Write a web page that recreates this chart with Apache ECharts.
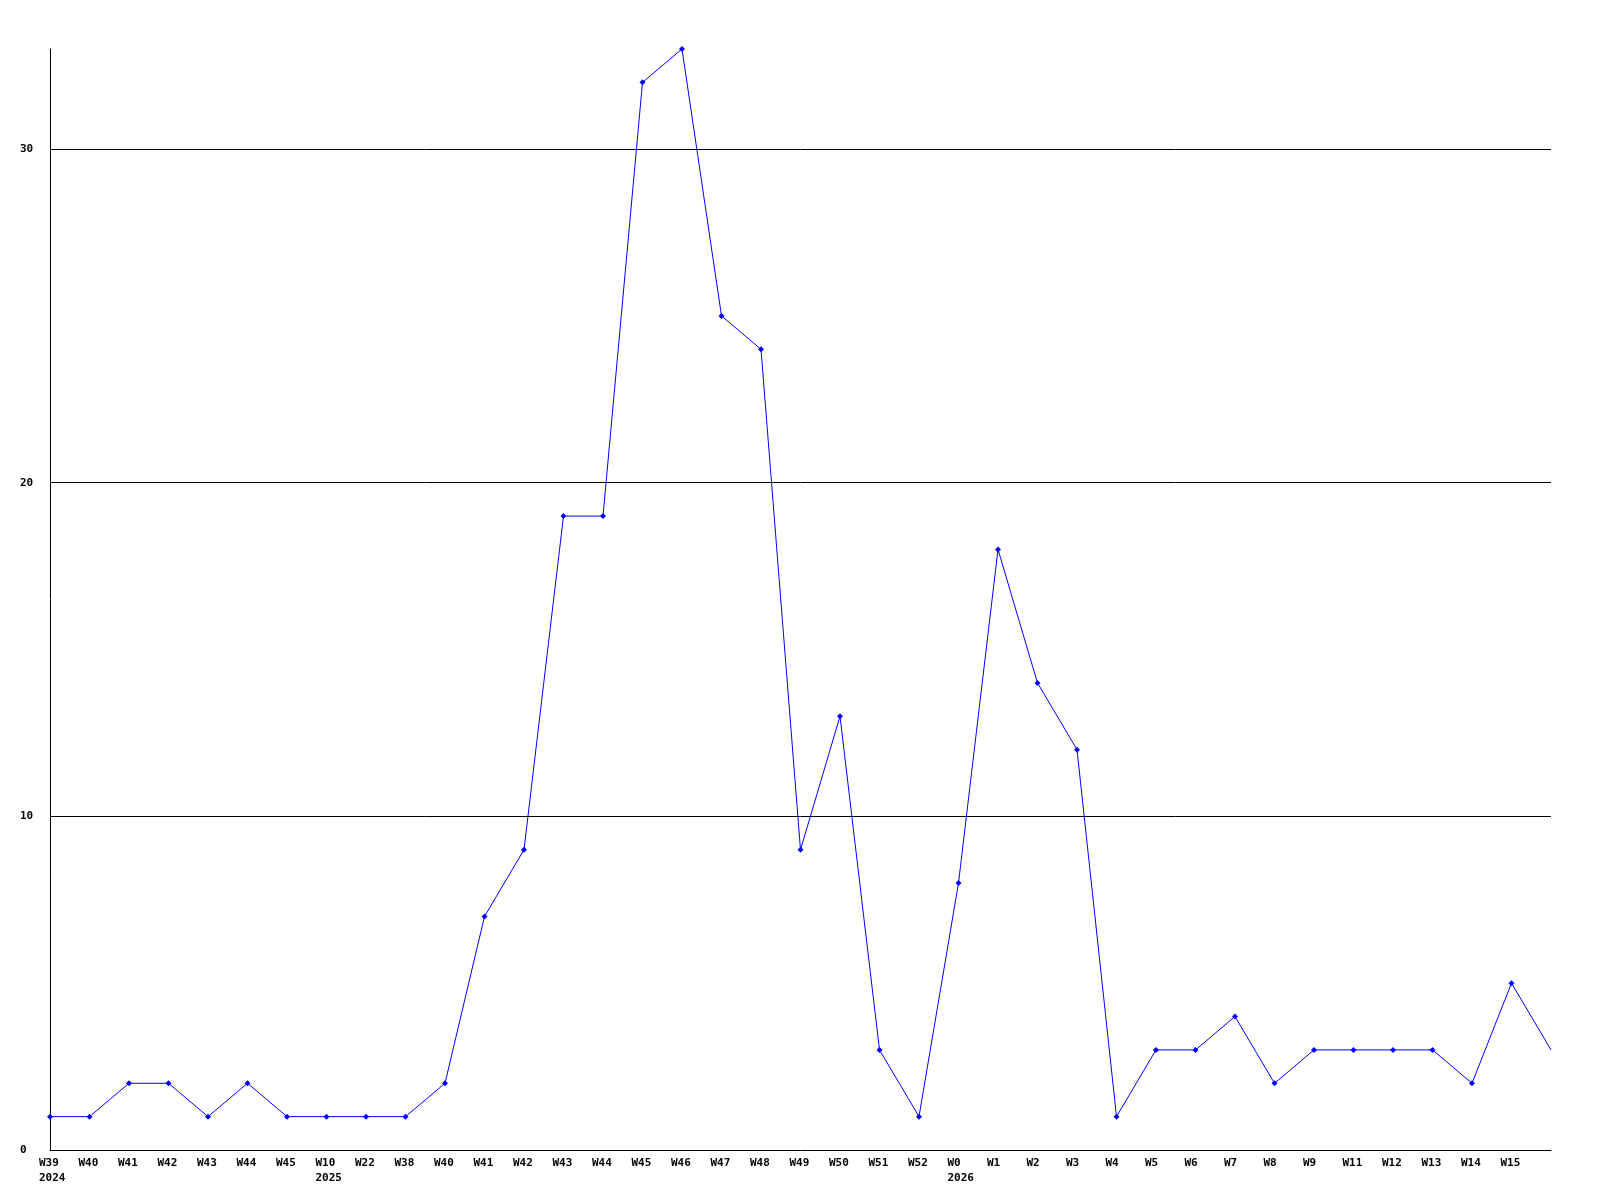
<!DOCTYPE html>
<html>
<head>
<meta charset="utf-8">
<script src="https://cdn.jsdelivr.net/npm/echarts@6/dist/echarts.min.js"></script>
<style>
  html, body { margin: 0; padding: 0; background: #fff; }
  #chart { width: 1600px; height: 1200px; }
</style>
</head>
<body>
<div id="chart"></div>
<script>
var weeks = ['W39', 'W40', 'W41', 'W42', 'W43', 'W44', 'W45',
  'W10', 'W22', 'W38', 'W40', 'W41', 'W42', 'W43', 'W44', 'W45', 'W46', 'W47', 'W48', 'W49', 'W50', 'W51', 'W52',
  'W0', 'W1', 'W2', 'W3', 'W4', 'W5', 'W6', 'W7', 'W8', 'W9', 'W11', 'W12', 'W13', 'W14', 'W15', ''];
var years = ['2024', '', '', '', '', '', '',
  '2025', '', '', '', '', '', '', '', '', '', '', '', '', '', '', '',
  '2026', '', '', '', '', '', '', '', '', '', '', '', '', '', '', ''];
var counts = [1, 1, 2, 2, 1, 2, 1,
  1, 1, 1, 2, 7, 9, 19, 19, 32, 33, 25, 24, 9, 13, 3, 1,
  8, 18, 14, 12, 1, 3, 3, 4, 2, 3, 3, 3, 3, 2, 5, 3];
var gridValues = [10, 20, 30];

var chart = echarts.init(document.getElementById('chart'));

// last point has no marker
var seriesData = counts.map(function (v, i) {
  return i === counts.length - 1 ? { value: v, symbol: 'none' } : v;
});

chart.setOption({
  animation: false,
  grid: { left: 50, right: 49, top: 49, bottom: 50, containLabel: false },
  xAxis: {
    type: 'category',
    boundaryGap: false,
    data: weeks.map(function (w, i) { return years[i] ? w + '\n' + years[i] : w; }),
    axisLine: { lineStyle: { color: '#000', width: 1 } },
    axisTick: { show: false },
    axisLabel: {
      interval: 0,
      margin: 6,
      color: '#000',
      fontFamily: 'DejaVu Sans Mono',
      fontWeight: 'bold',
      fontSize: 11,
      lineHeight: 15,
      formatter: function (val) {
        return val.split('\n').map(function (s) { return '{a|' + s + '}'; }).join('\n');
      },
      rich: {
        a: { width: 22, align: 'left', color: '#000', fontFamily: 'DejaVu Sans Mono', fontWeight: 'bold', fontSize: 11, lineHeight: 15 }
      }
    }
  },
  yAxis: {
    type: 'value',
    min: 0,
    max: 33,
    interval: 10,
    axisLine: { show: true, lineStyle: { color: '#000', width: 1 } },
    axisTick: { show: false },
    splitLine: { show: false },
    axisLabel: {
      showMaxLabel: false,
      align: 'left',
      margin: 30,
      color: '#000',
      fontFamily: 'DejaVu Sans Mono',
      fontWeight: 'bold',
      fontSize: 11,
      formatter: function (v) { return v % 10 === 0 ? v : ''; }
    }
  },
  series: [{
    type: 'line',
    data: seriesData,
    symbol: 'diamond',
    symbolSize: 6,
    showAllSymbol: true,
    lineStyle: { color: '#0000ff', width: 1 },
    itemStyle: { color: '#0000ff' },
    markLine: {
      silent: true,
      symbol: 'none',
      label: { show: false },
      lineStyle: { color: '#000', width: 1, type: 'solid' },
      data: gridValues.map(function (v) { return { yAxis: v }; })
    }
  }]
});
</script>
</body>
</html>
